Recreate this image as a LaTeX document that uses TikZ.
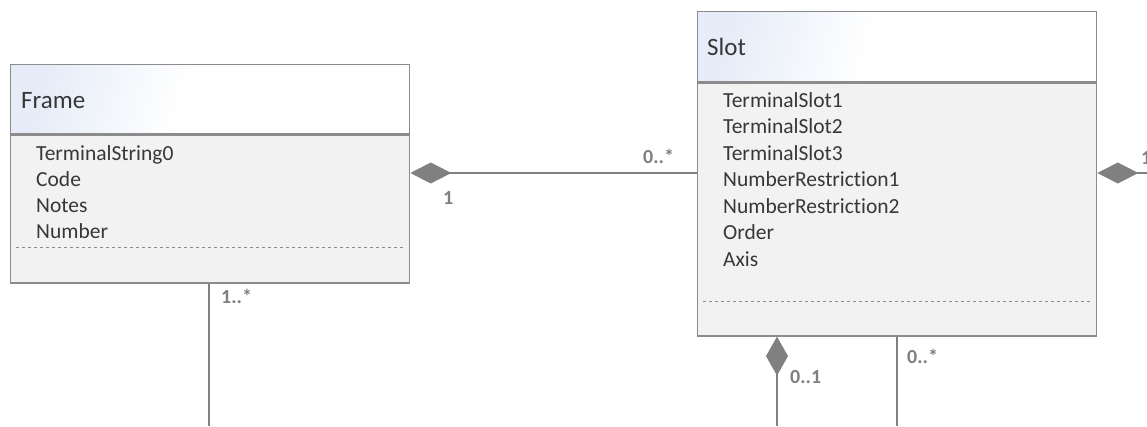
\documentclass[tikz,border=0pt]{standalone}
\usepackage{fontspec}
\setmainfont{Carlito}[Ligatures=NoCommon]
\usetikzlibrary{arrows.meta,positioning,calc}
\definecolor{umlline}{RGB}{140,140,140}
\definecolor{umlbody}{RGB}{242,242,242}
\definecolor{umlhead}{RGB}{230,237,248}
\definecolor{umltext}{RGB}{55,55,55}
\definecolor{umllabel}{RGB}{128,128,128}
\pgfdeclarehorizontalshading{headfade}{100bp}{color(0bp)=(umlhead);
  color(25bp)=(umlhead); color(46bp)=(white); color(100bp)=(white)}
\tikzset{
  headbox/.style={draw=umlline, line width=1.3pt, shade, shading=headfade,
    shading angle=-15, anchor=north west, inner sep=0pt},
  bodybox/.style={draw=umlline, line width=1.3pt, fill=umlbody,
    anchor=north west, inner sep=0pt},
  clsname/.style={anchor=base west, inner sep=0pt, text=umltext,
    font=\fontsize{25}{30}\selectfont},
  attrtext/.style={anchor=base west, inner sep=0pt, text=umltext,
    font=\fontsize{21.5}{26}\selectfont},
  opline/.style={dashed, umlline, line width=1pt},
  assoc/.style={draw=umllabel, fill=umllabel, line width=1.4pt},
  multlabel/.style={anchor=base west, inner sep=0pt, text=umllabel,
    font=\bfseries\fontsize{20}{24}\selectfont}
}

\begin{document}
\begin{tikzpicture}[x=1pt, y=-1pt]
\useasboundingbox (0,0) rectangle (1147,426);
\node[headbox, minimum width=399pt, minimum height=69pt] (frameHead) at (10,64) {};
\node[bodybox, minimum width=399pt, minimum height=148pt] (frameBody)
  at (frameHead.south west) {};
\node[clsname] (frameTitle) at (21,108) {Frame};
\foreach \t [count=\i] in {TerminalString0, Code, Notes, Number}
  \node[attrtext] (frameAttr\i) at (36, {160+26.3*(\i-1)}) {\t};
\draw[opline] (16,247) -- (404,247);

\node[headbox, minimum width=399pt, minimum height=70pt] (slotHead) at (697,11) {};
\node[bodybox, minimum width=399pt, minimum height=253pt] (slotBody)
  at (slotHead.south west) {};
\node[clsname] (slotTitle) at (707,55) {Slot};
\foreach \t [count=\i] in {TerminalSlot1, TerminalSlot2, TerminalSlot3,
    NumberRestriction1, NumberRestriction2, Order, Axis}
  \node[attrtext] (slotAttr\i) at (723, {107+26.5*(\i-1)}) {\t};
\draw[opline] (703,301) -- (1092,301);

\coordinate (slotLeft) at (slotBody.west |- 0,173);
\coordinate (rightEnd) at (1147,173);
\coordinate (frameDown) at (209,426);
\coordinate (slotDownA) at (777,426);
\coordinate (slotDownB) at (897,426);
\draw[assoc, {Diamond[length=41pt, width=21pt]}-] (frameBody.east |- slotLeft)
  -- (slotLeft);
\draw[assoc, {Diamond[length=41pt, width=21pt]}-] (slotBody.east |- rightEnd)
  -- (rightEnd);
\draw[assoc] (frameBody.south -| frameDown) -- (frameDown);
\draw[assoc, {Diamond[length=39pt, width=22pt]}-] (slotBody.south -| slotDownA)
  -- (slotDownA);
\draw[assoc] (slotBody.south -| slotDownB) -- (slotDownB);

\node[multlabel] (lblFrameOne) at (443,204) {1};
\node[multlabel] (lblSlotMany) at (643,163) {0..*};
\node[multlabel] (lblRightOne) at (1141,164) {1};
\node[multlabel] (lblFrameMany) at (221,303) {1..*};
\node[multlabel] (lblSlotOpt) at (790,383) {0..1};
\node[multlabel] (lblSlotDown) at (907,363) {0..*};
\end{tikzpicture}
\end{document}
